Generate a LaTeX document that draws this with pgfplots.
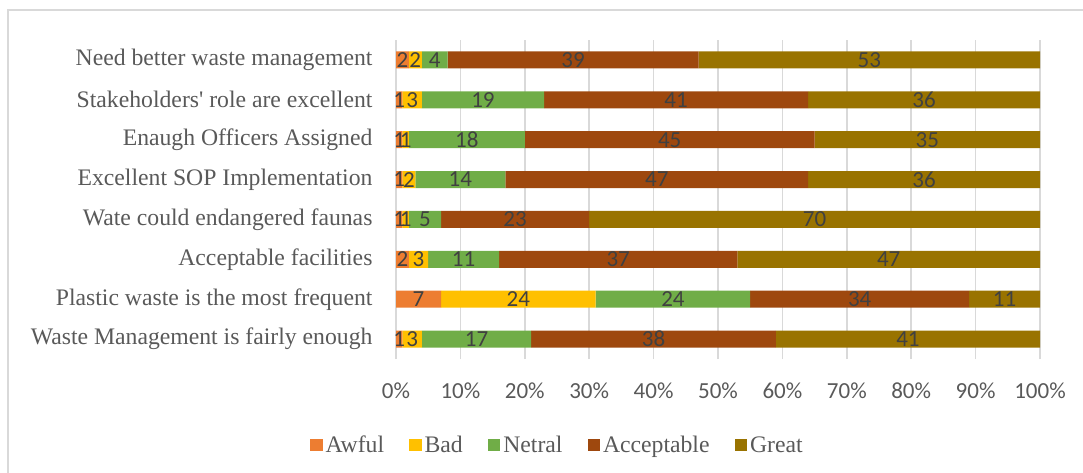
\documentclass[border=0pt]{standalone}
\usepackage{fontspec}
\setmainfont{Liberation Serif}
\newfontfamily\calibri{Carlito}
\usepackage{pgfplots}
\usepackage{pgfplotstable}
\pgfplotsset{compat=1.18}

\definecolor{cAwful}{HTML}{ED7D31}
\definecolor{cBad}{HTML}{FFC000}
\definecolor{cNetral}{HTML}{70AD47}
\definecolor{cAccept}{HTML}{9E480E}
\definecolor{cGreat}{HTML}{997300}
\definecolor{gridgray}{HTML}{D9D9D9}
\definecolor{textgray}{HTML}{595959}
\definecolor{valgray}{HTML}{404040}

% rows from bottom (0) to top (7); values are percentages
\pgfplotstableread{
y awful bad netral acceptable great
0 1 3 17 38 41
1 7 24 24 34 11
2 2 3 11 37 47
3 1 1 5 23 70
4 1 2 14 47 36
5 1 1 18 45 35
6 1 3 19 41 36
7 2 2 4 39 53
}\survey

\begin{document}
\begin{tikzpicture}
\clip (0pt,0pt) rectangle (1083pt,-472pt);
\draw[color=gridgray, line width=1.3pt] (8pt,-10pt) rectangle (1110pt,-500pt);
\begin{axis}[
  at={(396pt,-359pt)}, anchor=south west,
  scale only axis, width=644pt, height=319pt,
  xbar stacked, bar width=17pt,
  xmin=0, xmax=100, ymin=-0.5, ymax=7.5,
  xtick={0,10,...,100},
  xticklabels={0\%,10\%,20\%,30\%,40\%,50\%,60\%,70\%,80\%,90\%,100\%},
  ytick={0,...,7},
  yticklabels={Waste Management is fairly enough,
    Plastic waste is the most frequent,
    Acceptable facilities,
    Wate could endangered faunas,
    Excellent SOP Implementation,
    Enaugh Officers Assigned,
    Stakeholders\textquotesingle{} role are excellent,
    Need better waste management},
  major tick length=0pt,
  axis line style={draw=none},
  xmajorgrids,
  grid style={color=gridgray, line width=1.5pt},
  xticklabel style={font=\calibri\fontsize{23}{27}\selectfont, text=textgray, yshift=-20pt},
  yticklabel style={font=\fontsize{23.7}{27}\selectfont, text=textgray, anchor=east, xshift=-20pt},
  point meta=explicit,
  nodes near coords={\pgfmathprintnumber[assume math mode=true]{\pgfplotspointmeta}},
  nodes near coords style={font=\calibri\fontsize{23}{27}\selectfont, text=valgray, inner sep=0pt},
  seg/.style={draw=none, fill=#1},
  col/.style={table/x=#1, table/y=y, table/meta=#1,
    visualization depends on={value \thisrow{#1} \as \segval},
    every node near coord/.append style={anchor=center, xshift=-3.22pt*\segval}},
  legend style={at={(-0.1335,-0.27)}, anchor=west, draw=none, fill=none,
    inner sep=0pt, nodes={inner xsep=3pt, inner ysep=0pt},
    legend columns=-1, font=\fontsize{23.7}{27}\selectfont, text=textgray,
    /tikz/every even column/.append style={column sep=22pt}},
  legend image code/.code={\fill[#1] (0pt,-6.2pt) rectangle (12.5pt,6.3pt);},
]
\addplot[seg=cAwful] table[col=awful] {\survey};
\addplot[seg=cBad] table[col=bad] {\survey};
\addplot[seg=cNetral] table[col=netral] {\survey};
\addplot[seg=cAccept] table[col=acceptable] {\survey};
\addplot[seg=cGreat] table[col=great] {\survey};
\legend{Awful,Bad,Netral,Acceptable,Great}
\end{axis}
\end{tikzpicture}
\end{document}
